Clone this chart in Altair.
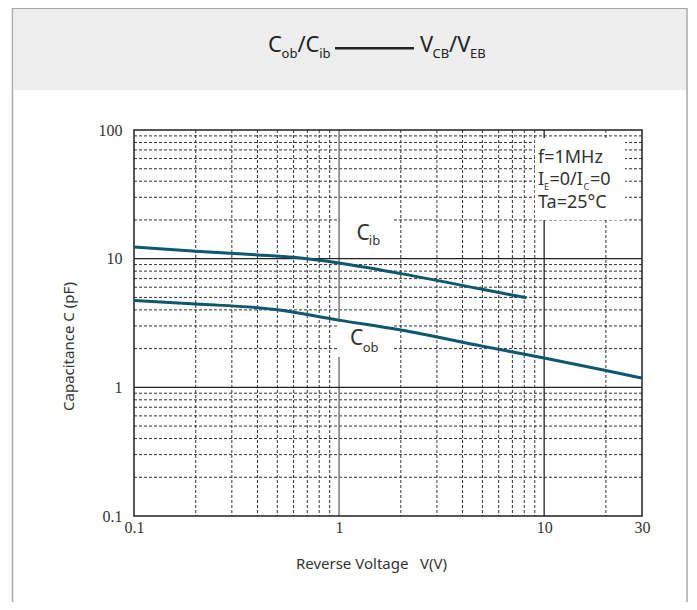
import altair as alt
import pandas as pd

# ---- data ----
cib_v = [0.1, 0.2, 0.4, 0.6, 1.0, 2.0, 5.0, 8.2]
cib_c = [12.3, 11.4, 10.7, 10.25, 9.25, 7.65, 5.78, 4.97]
cob_v = [0.1, 0.2, 0.5, 1.0, 2.0, 5.0, 10.0, 20.0, 30.0]
cob_c = [4.73, 4.45, 4.01, 3.33, 2.79, 2.09, 1.69, 1.35, 1.18]

x_labels = [0.1, 1, 10, 30]
y_labels = [0.1, 1, 10, 100]
x_minor = [0.2, 0.3, 0.4, 0.5, 0.6, 0.7, 0.8, 0.9, 2, 3, 4, 5, 6, 7, 8, 9, 20]
y_minor = [0.2, 0.3, 0.4, 0.5, 0.6, 0.7, 0.8, 0.9, 2, 3, 4, 5, 6, 7, 8, 9,
           20, 30, 40, 50, 60, 70, 80, 90]
x_major_dark = [10]
x_major_gray = [1]
y_major = [1, 10]

W, H = 508, 386
CURVE = "#0d5870"
SANS = "Noto Sans, sans-serif"
SERIF = "Liberation Serif, serif"

xs = alt.Scale(type="log", domain=[0.1, 30], nice=False)
ys = alt.Scale(type="log", domain=[0.1, 100], nice=False)

x_axis = alt.Axis(values=x_labels, format="~g", labelFont=SERIF, labelFontSize=16,
                  labelColor="#333", ticks=False, domain=False, grid=False,
                  labelFlush=False, labelPadding=3, zindex=1,
                  title="Reverse Voltage\u00a0\u00a0 V(V)", titleFont="Noto Sans",
                  titleFontSize=15, titleFontWeight="normal", titleColor="#333",
                  titleX=237, titleY=47, titleBaseline="middle", titleAlign="center")
y_axis = alt.Axis(values=y_labels, format="~g", labelFont=SERIF, labelFontSize=16,
                  labelColor="#333", ticks=False, domain=False, grid=False,
                  labelPadding=12, zindex=1,
                  title="Capacitance C (pF)", titleFont="Noto Sans",
                  titleFontSize=15, titleFontWeight="normal", titleColor="#333",
                  titleX=-66, titleY=216, titleBaseline="middle", titleAlign="center",
                  titleAngle=-90)


def X():
    return alt.X("x:Q", scale=xs, axis=x_axis)


def Y():
    return alt.Y("y:Q", scale=ys, axis=y_axis)


one = pd.DataFrame({"a": [0]})

# decorations: outer frame and header band
frame = alt.Chart(one).mark_rect(fill="white", fillOpacity=0, stroke="#a8a8a8",
                                 strokeWidth=1.5).encode(
    x=alt.value(-121.5), x2=alt.value(553), y=alt.value(-121.5), y2=alt.value(480))
band = alt.Chart(one).mark_rect(fill="#eeeeee").encode(
    x=alt.value(-120.5), x2=alt.value(552), y=alt.value(-120.5), y2=alt.value(-40))

# grid
vminor = alt.Chart(pd.DataFrame({"x": x_minor})).mark_rule(
    color="#333", strokeWidth=1, strokeDash=[3, 2]).encode(x=X())
hminor = alt.Chart(pd.DataFrame({"y": y_minor})).mark_rule(
    color="#333", strokeWidth=1, strokeDash=[3, 2]).encode(y=Y())
vmaj_d = alt.Chart(pd.DataFrame({"x": x_major_dark})).mark_rule(
    color="#222", strokeWidth=1.3).encode(x=X())
vmaj_g = alt.Chart(pd.DataFrame({"x": x_major_gray})).mark_rule(
    color="#7a7a7a", strokeWidth=1.5).encode(x=X())
hmaj = alt.Chart(pd.DataFrame({"y": y_major})).mark_rule(
    color="#222", strokeWidth=1.3).encode(y=Y())

# white label boxes (plot-relative pixels)
boxes = [(206, 258, 75, 120), (203, 258, 192, 227), (401, 491, 8, 90)]
box_layers = [alt.Chart(one).mark_rect(fill="white").encode(
    x=alt.value(b[0]), x2=alt.value(b[1]), y=alt.value(b[2]), y2=alt.value(b[3]))
    for b in boxes]

plot_border = alt.Chart(one).mark_rect(fill="white", fillOpacity=0, stroke="#222",
                                       strokeWidth=1.5).encode(
    x=alt.value(0), x2=alt.value(W), y=alt.value(0), y2=alt.value(H))

# curves
curves_df = pd.concat([
    pd.DataFrame({"x": cib_v, "y": cib_c, "s": "Cib"}),
    pd.DataFrame({"x": cob_v, "y": cob_c, "s": "Cob"}),
])
curves = alt.Chart(curves_df).mark_line(
    color=CURVE, strokeWidth=3, interpolate="monotone").encode(
    x=X(), y=Y(), detail="s:N")

# text pieces: (text, x, baseline y, size) in plot-relative pixels
texts = [
    ("C", 134, -78.3, 22), ("ob", 147.6, -72.5, 13), ("/C", 163.4, -78.3, 22),
    ("ib", 185.2, -72.5, 13), ("V", 286, -78.3, 22), ("CB", 298.5, -72.5, 13),
    ("/V", 315, -78.3, 22), ("EB", 336, -72.5, 13),
    ("C", 222.5, 110, 21), ("ib", 234.8, 115, 13),
    ("C", 216, 215, 21), ("ob", 228.7, 221.7, 13),
    ("f=1MHz", 404, 32.5, 18),
    ("I", 404, 55, 18), ("E", 410, 59.5, 9), ("=0/I", 415.5, 55, 18),
    ("C", 449.5, 59.5, 9), ("=0", 456, 55, 18),
    ("Ta=25\u00b0C", 404, 77.5, 18),
]
text_layers = [alt.Chart(one).mark_text(
    text=t, align="left", baseline="alphabetic", font=SANS, fontSize=s,
    color="#222" if y < 0 else "#333").encode(x=alt.value(x), y=alt.value(y))
    for (t, x, y, s) in texts]

title_line = alt.Chart(one).mark_rule(color="#222", strokeWidth=2.5).encode(
    x=alt.value(201), x2=alt.value(280), y=alt.value(-81.7))

chart = alt.layer(
    frame, band, vminor, hminor, vmaj_g, vmaj_d, hmaj, *box_layers, plot_border,
    curves, *text_layers, title_line,
).properties(
    width=W, height=H,
    autosize=alt.AutoSizeParams(type="none"),
    padding={"left": 126, "top": 122, "right": 47, "bottom": 86},
    background="white",
).configure_view(stroke=None)

chart.save("out.html", embed_options={"renderer": "svg", "actions": False})
